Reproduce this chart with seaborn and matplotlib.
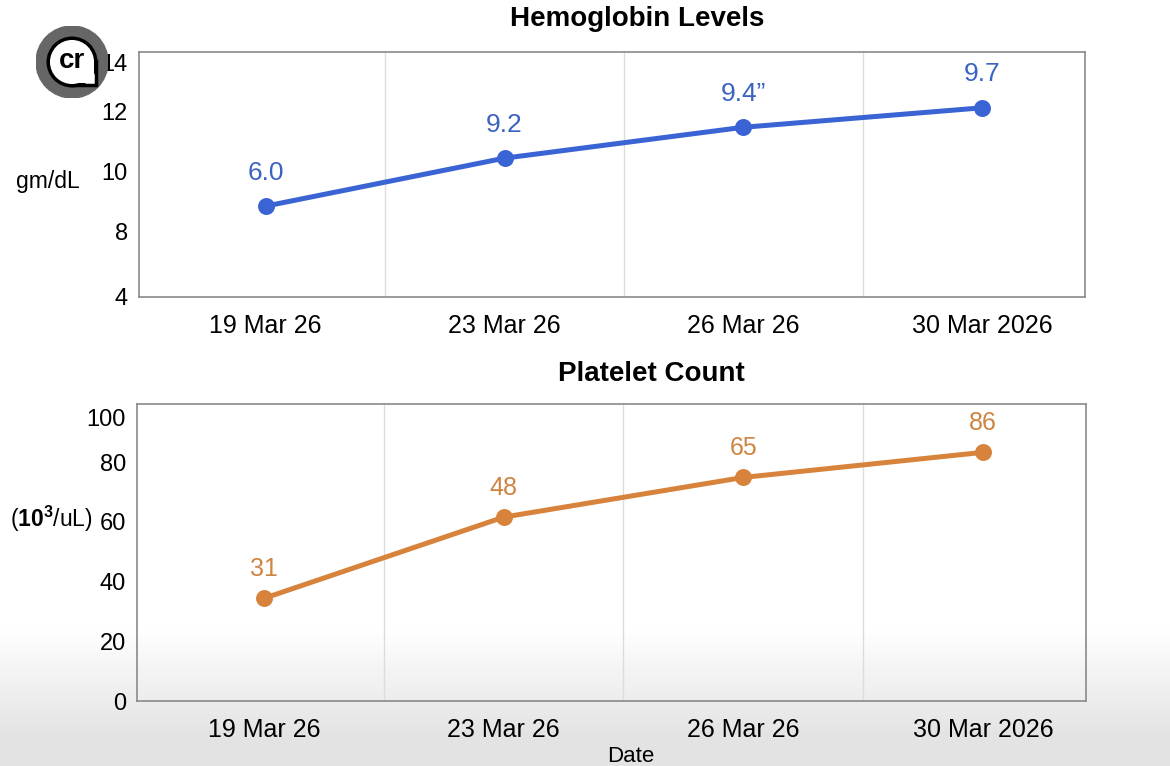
import numpy as np
import pandas as pd
import matplotlib
matplotlib.use("Agg")
import matplotlib.pyplot as plt
import seaborn as sns
from matplotlib.patches import Circle, Rectangle

sns.set_style("white")
plt.rcParams["font.family"] = ["Liberation Sans", "DejaVu Sans"]
plt.rcParams["mathtext.fontset"] = "custom"
plt.rcParams["mathtext.rm"] = "Liberation Sans"
plt.rcParams["mathtext.bf"] = "Liberation Sans:bold"
for key in ["text.color", "axes.labelcolor", "xtick.color", "ytick.color"]:
    plt.rcParams[key] = "black"

# Data
DATES = ["19 Mar 26", "23 Mar 26", "26 Mar 26", "30 Mar 2026"]

HB_VALUES = [8.83, 10.43, 11.46, 12.11]          # plotted height
HB_LABELS = ["6.0", "9.2", "9.4\u201d", "9.7"]    # printed labels
HB_TICKS = [5.83, 8, 10, 12, 13.63]
HB_TICK_LABELS = ["4", "8", "10", "12", "14"]
HB_GRID = [8, 10, 12]

PLT_VALUES = [34.4, 61.6, 74.9, 83.3]
PLT_LABELS = ["31", "48", "65", "86"]
PLT_TICKS = [0, 20, 40, 60, 80, 95]
PLT_TICK_LABELS = ["0", "20", "40", "60", "80", "100"]
PLT_GRID = [20, 40, 60, 80]

BLUE, BLUE_TXT = "#3a63d4", "#3b63c2"
ORANGE, ORANGE_TXT = "#d8833c", "#cf8442"

W, H = 1170, 766
fig = plt.figure(figsize=(W / 100, H / 100), dpi=100)

# background with the soft grey fade at the bottom
bg = fig.add_axes([0, 0, 1, 1], zorder=-5)
rows = np.arange(H)
shade = np.clip((rows - 625) / 110.0, 0, 1)
grad = 1.0 - 0.11 * shade
bg.imshow(np.tile(grad[:, None], (1, 4)), cmap="gray", vmin=0, vmax=1,
          aspect="auto", extent=[0, 1, 0, 1], origin="upper")
bg.set_axis_off()


def panel(rect, values, labels, ticks, tick_labels, grid_y, ylim, color,
          txt_color, title, title_x, title_y, ylabel, ylabel_xy, label_off,
          label_size):
    ax = fig.add_axes(rect)
    ax.set_facecolor("none")
    df = pd.DataFrame({"pos": np.arange(len(DATES)), "val": values})
    sns.lineplot(data=df, x="pos", y="val", ax=ax, color=color, lw=3.6,
                 marker="o", markersize=11, markeredgecolor=color,
                 markeredgewidth=1.2, sort=False)
    for x, y, lab in zip(df["pos"], df["val"], labels):
        ax.annotate(lab, (x, y), xytext=(0, label_off), textcoords="offset points",
                    ha="center", va="center", color=txt_color, fontsize=label_size)
    ax.set_xlim(-0.53, 3.43)
    ax.set_ylim(*ylim)
    ax.set_xticks(df["pos"], DATES, fontsize=18)
    ax.set_xticks([0.5, 1.5, 2.5], minor=True)
    ax.set_yticks(ticks, tick_labels, fontsize=17)
    ax.set_yticks(grid_y, minor=True)
    ax.grid(False)
    ax.grid(which="minor", color="#dcdcdc", lw=1)
    ax.tick_params(axis="both", which="both", length=0)
    ax.tick_params(axis="x", pad=12)
    ax.tick_params(axis="y", pad=8)
    for s in ax.spines.values():
        s.set_color("#8a8a8a")
        s.set_linewidth(1.2)
    ax.set_xlabel("")
    ax.set_ylabel(ylabel, rotation=0, fontsize=16.5, ha="center", va="center")
    ax.yaxis.set_label_coords(*ylabel_xy)
    fig.text(title_x / W, 1 - title_y / H, title, ha="center", va="center",
             fontsize=20, fontweight="bold")
    return ax


panel([139 / W, 1 - 297 / H, 946 / W, 245 / H], HB_VALUES, HB_LABELS,
      HB_TICKS, HB_TICK_LABELS, HB_GRID, (5.8, 13.97), BLUE, BLUE_TXT,
      "Hemoglobin Levels", 637, 19, "gm/dL", (-0.096, 0.47), 24, 19)

panel([137 / W, 1 - 701 / H, 949 / W, 297 / H], PLT_VALUES, PLT_LABELS,
      PLT_TICKS, PLT_TICK_LABELS, PLT_GRID, (0, 99.5), ORANGE, ORANGE_TXT,
      "Platelet Count", 651, 374, r"($\mathbf{10^3}$/uL)", (-0.09, 0.612), 21, 18)

fig.text(631 / W, 1 - 757 / H, "Date", ha="center", va="center", fontsize=16)

# round logo in the top-left corner
logo = fig.add_axes([36 / W, 1 - 98 / H, 72 / W, 72 / H])
logo.set_xlim(-1, 1)
logo.set_ylim(-1, 1)
logo.set_axis_off()
logo.add_patch(Circle((0, 0), 1, color="#666666"))
logo.add_patch(Rectangle((0.02, -0.64), 0.64, 0.66, facecolor="white",
                         edgecolor="black", lw=2.5))
logo.add_patch(Circle((0.0, 0.0), 0.66, facecolor="white", edgecolor="black", lw=2.5))
logo.add_patch(Rectangle((0.04, -0.57), 0.57, 0.6, facecolor="white", lw=0))
logo.text(0.0, 0.04, "cr", ha="center", va="center", fontsize=20,
          fontweight="bold", color="black")

fig.savefig("out.png", dpi=100)
